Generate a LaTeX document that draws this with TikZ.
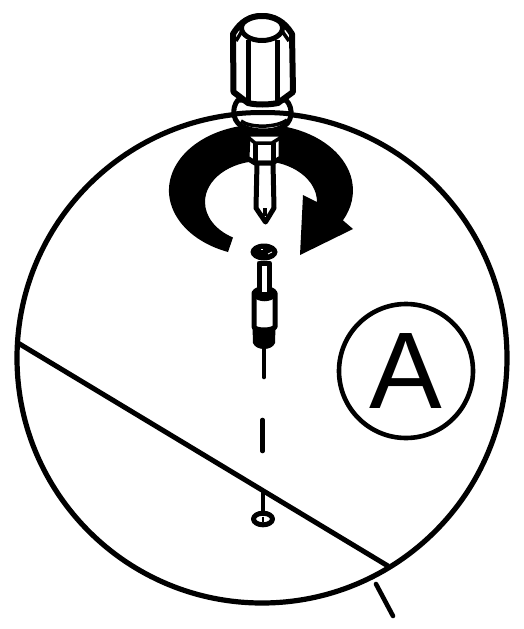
\documentclass[tikz,border=0pt]{standalone}
\usepackage{fontspec}
\setsansfont{Liberation Sans}
\usetikzlibrary{arrows.meta,positioning,calc}
\tikzset{
  ink/.style={line width=5pt, line join=round, black},
  inkthin/.style={line width=3.5pt, line join=round, black},
  axisline/.style={line width=4.6pt, black},
}

\begin{document}
\begin{tikzpicture}[x=1pt, y=1pt, yscale=-1]
  \useasboundingbox (0,0) rectangle (524,629);
  % Grand cercle
  \draw[line width=5.2pt] (262,358) circle (245);
  % Arete oblique et repere
  \draw[ink] (18,343) -- (388,566);
  \draw[axisline, line cap=round] (376,584) -- (393,616);
  % Marque A
  \draw[line width=4.6pt] (406,371) circle (67);
  \node[font=\sffamily\fontsize{109}{109}\selectfont, inner sep=0pt] (lettreA) at (406,371) {A};
  % Fleche de rotation
  \fill[black] (228,252) arc[start angle=111, end angle=387, x radius=92, y radius=66]
    -- (353,229) -- (300,255) -- (303,195) -- (317,202)
    arc[start angle=360, end angle=120, x radius=56, y radius=41] -- cycle;
  % Collerette
  \draw[ink, fill=white] (238,100) .. controls (231,108) and (232,124) .. (246,128)
    .. controls (255,132) and (272,132) .. (280,128)
    .. controls (293,124) and (294,108) .. (286,100) -- cycle;
  \draw[ink] (235,114) .. controls (250,112) and (275,112) .. (291,114);
  \draw[inkthin] (241,121) .. controls (250,128) and (276,128) .. (287,120);
  % Ecrou
  \draw[ink, fill=white] (248,134) -- (247,158) -- (255,163) -- (272,163) -- (281,158) -- (281,134) -- cycle;
  \draw[inkthin] (249,138) -- (255,143) -- (272,143) -- (280,138);
  \draw[ink] (255,143) -- (255,163);
  \draw[ink] (273,143) -- (273,163);
  % Tige et pointe
  \draw[ink, fill=white] (257,163) -- (256,208) -- (265.5,222) -- (274,208) -- (273,163) -- cycle;
  \draw[inkthin] (265,208) -- (265,216);
  % Manche
  \draw[line width=6pt, line join=round, fill=white] (233.5,92) -- (233,34)
    .. controls (241,21) and (250,16) .. (262,16)
    .. controls (274,16) and (284,21) .. (292,34)
    -- (293,92) -- (278,103) .. controls (268,105) and (256,105) .. (248,103) -- cycle;
  \draw[ink] (262,28) ellipse [x radius=20.5, y radius=12.5];
  \draw[inkthin] (242,31) -- (236,41);
  \draw[inkthin] (282,31) -- (289,41);
  \draw[ink] (248,40) -- (248,103);
  \draw[ink] (277,40) -- (277,103);
  % Vis
  \draw[ink, fill=white] (254,293) -- (254,327) .. controls (256,331) and (272,331) .. (275,327) -- (275,293)
    .. controls (272,287) and (257,287) .. (254,293) -- cycle;
  \draw[ink, fill=white] (259,263) -- (259,297) -- (269.5,297) -- (269.5,263) -- cycle;
  \fill[black] (253,296) .. controls (257,303) and (272,303) .. (276,296) -- (276,292) -- (253,292) -- cycle;
  \fill[black] (252.5,327) -- (253,343) .. controls (256,351) and (272,351) .. (275,343) -- (275.5,327)
    .. controls (270,331) and (258,331) .. (252.5,327) -- cycle;
  \fill[black] (264,252) ellipse [x radius=13.5, y radius=8.5];
  \draw[white, line width=0.8pt] (268,254) -- (272,252);
  \draw[white, line width=0.8pt] (261,249) -- (263,249);
  % Axe pointille
  \draw[axisline, line cap=round] (264,345) -- (264,377);
  \draw[axisline, line cap=round] (262.5,420) -- (262.5,451);
  \draw[axisline] (263,491) -- (263,513);
  % Trou
  \draw[ink, fill=white] (263,519) ellipse [x radius=9.5, y radius=5.8];
  \draw[line width=1.5pt] (263,516.5) -- (263,521.5);
\end{tikzpicture}
\end{document}
